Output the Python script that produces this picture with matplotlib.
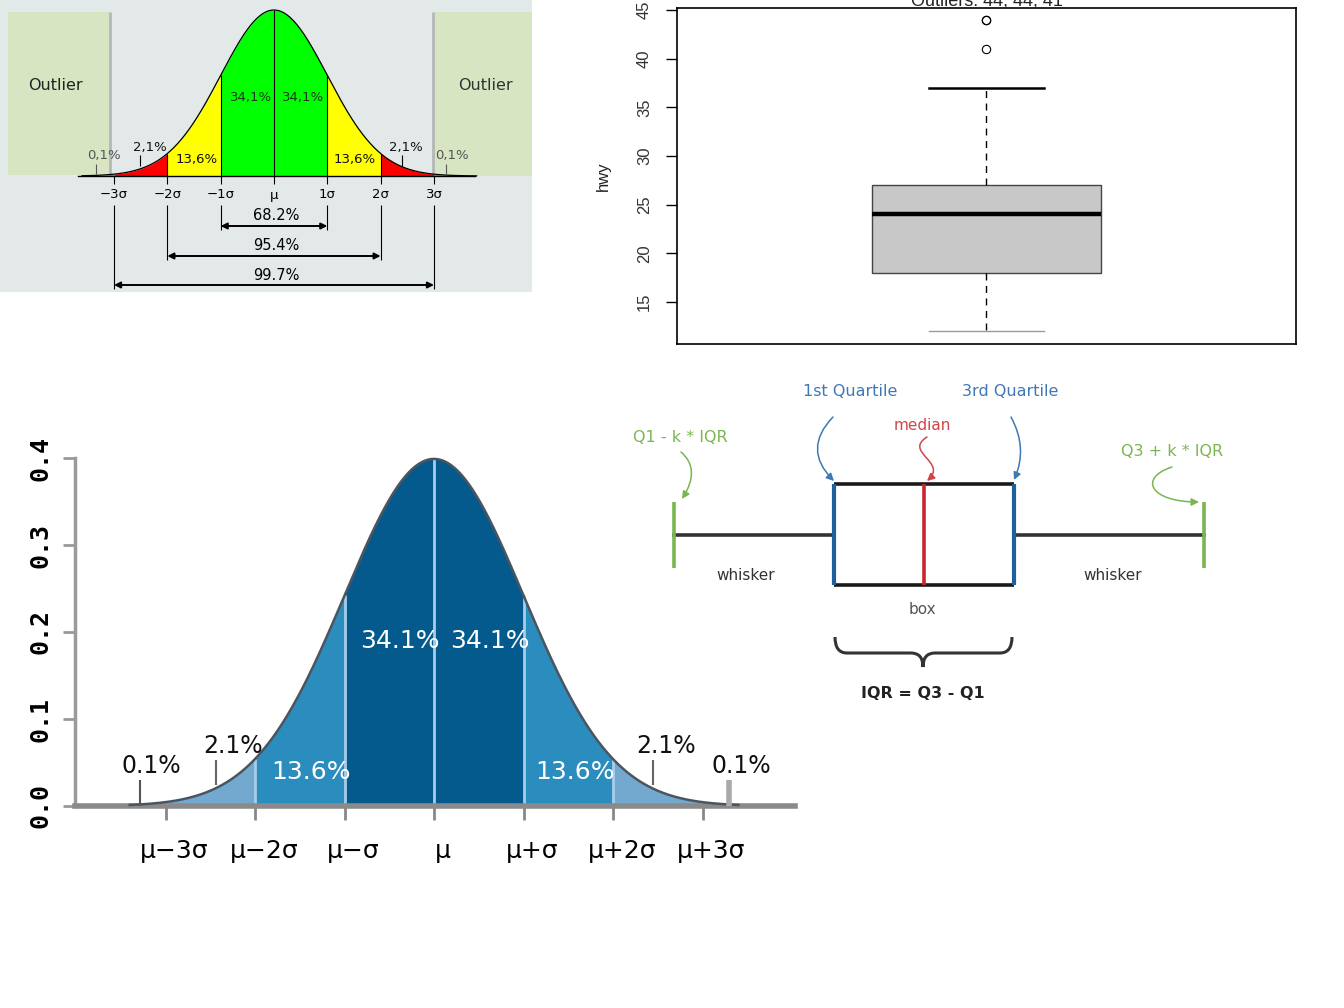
import numpy as np
import matplotlib
matplotlib.use("Agg")
import matplotlib.pyplot as plt
import matplotlib.patches as patches
import matplotlib.transforms as mtransforms
from matplotlib.path import Path

W, H = 1344, 1008
NARROW = ['Liberation Sans Narrow', 'DejaVu Sans']
ARIAL = ['Liberation Sans', 'DejaVu Sans']

# ---------------- data ----------------
sigma_edges = [-3, -2, -1, 0, 1, 2, 3]
top_tick_labels = ['−3σ', '−2σ', '−1σ', 'μ', '1σ', '2σ', '3σ']
bottom_tick_labels = ['μ−3σ', 'μ−2σ', 'μ−σ', 'μ', 'μ+σ', 'μ+2σ', 'μ+3σ']
share_comma = ['0,1%', '2,1%', '13,6%', '34,1%', '34,1%', '13,6%', '2,1%', '0,1%']
share_dot = ['0.1%', '2.1%', '13.6%', '34.1%', '34.1%', '13.6%', '2.1%', '0.1%']
coverage_k = [1, 2, 3]
coverage_labels = ['68.2%', '95.4%', '99.7%']
pdf_ticks = [0.0, 0.1, 0.2, 0.3, 0.4]

hwy_q1, hwy_med, hwy_q3 = 18, 24, 27
hwy_whislo, hwy_whishi = 12, 37
hwy_outliers = [44, 44, 41]
hwy_ticks = [15, 20, 25, 30, 35, 40, 45]

# schematic box plot, arbitrary units
sch_lo, sch_q1, sch_med, sch_q3, sch_hi = 0.0, 1.6, 2.5, 3.4, 5.3


def pdf(x):
    return np.exp(-np.asarray(x, float) ** 2 / 2) / np.sqrt(2 * np.pi)


fig = plt.figure(figsize=(W / 100, H / 100), dpi=100)


def px_axes(x0, y0, x1, y1):
    return fig.add_axes([x0 / W, 1 - y1 / H, (x1 - x0) / W, (y1 - y0) / H])


def bare(ax):
    ax.set_xticks([])
    ax.set_yticks([])
    for s in ax.spines.values():
        s.set_visible(False)
    ax.patch.set_alpha(0)


# ---------------- panel 1: coloured normal curve ----------------
ax1 = px_axes(0, 0, 532, 292)
bare(ax1)
k1 = pdf(0) / 166
fx = lambda px: (px - 274) / 53.33
fy = lambda py: (176 - py) * k1
ax1.set_xlim(fx(0), fx(532))
ax1.set_ylim(fy(292), fy(0))
ax1.add_patch(patches.Rectangle((0, 0), 1, 1, transform=ax1.transAxes,
                                fc='#e3e9e9', ec='none', zorder=0))
ax1.add_patch(patches.Rectangle((fx(8), fy(175)), fx(110) - fx(8), fy(12) - fy(175),
                                fc='#d8e5c3', ec='none', zorder=1))
ax1.add_patch(patches.Rectangle((fx(433), fy(176)), fx(532) - fx(433), fy(12) - fy(176),
                                fc='#d8e5c3', ec='none', zorder=1))
ax1.vlines([fx(110), fx(433)], 0, fy(12), color='#b4b8b8', lw=2, zorder=2)
ax1.text(fx(55), fy(86), 'Outlier', ha='center', va='center', fontsize=11.5, color='#222', zorder=3)
ax1.text(fx(485), fy(86), 'Outlier', ha='center', va='center', fontsize=11.5, color='#333', zorder=3)

band_cols1 = ['#ff0000', '#ffff00', '#00ff00', '#00ff00', '#ffff00', '#ff0000']
for a, b, c in zip(sigma_edges[:-1], sigma_edges[1:], band_cols1):
    xs = np.linspace(a, b, 100)
    ax1.fill_between(xs, 0, pdf(xs), color=c, lw=0, zorder=3)
for a, b in [(-3.6, -3), (3, 3.6)]:
    xs = np.linspace(a, b, 50)
    ax1.fill_between(xs, 0, pdf(xs), color='#ff6040', lw=0, zorder=3)
xs = np.linspace(-3.6, 3.8, 600)
ax1.plot(xs, pdf(xs), color='black', lw=0.9, zorder=4)
ax1.vlines(sigma_edges[1:-1], 0, pdf(sigma_edges[1:-1]), color='black', lw=0.8, zorder=4)
ax1.plot([fx(78), fx(475)], [0, 0], color='black', lw=1, zorder=4)
ax1.vlines(sigma_edges, fy(184), 0, color='black', lw=0.8, zorder=4)
for e, lbl in zip(sigma_edges, top_tick_labels):
    ax1.text(e, fy(195), lbl, ha='center', va='center', fontsize=9.5, zorder=5)

lab1_px = [(104, 156), (150, 147), (197, 160), (251, 98), (303, 98), (355, 160), (406, 147), (452, 156)]
lab1_col = ['#555', '#111', '#111', '#1a3a1a', '#1a3a1a', '#111', '#111', '#555']
for (px, py), s, c in zip(lab1_px, share_comma, lab1_col):
    ax1.text(fx(px), fy(py), s, ha='center', va='center', fontsize=9.5, color=c, zorder=5)
ax1.vlines([fx(140), fx(402)], fy(166), fy(155), color='black', lw=0.8, zorder=5)
ax1.vlines([fx(96), fx(446)], fy(174), fy(164), color='#555', lw=0.8, zorder=5)

for k, lbl, ypx in zip(coverage_k, coverage_labels, [226, 256, 285]):
    ax1.vlines([-k, k], fy(ypx + 4), fy(205), color='black', lw=0.8, zorder=4)
    ax1.annotate('', xy=(k, fy(ypx)), xytext=(-k, fy(ypx)),
                 arrowprops=dict(arrowstyle='<|-|>', color='black', lw=1.4,
                                 shrinkA=0, shrinkB=0, mutation_scale=9), zorder=5)
    ax1.text(0.04, fy(ypx - 10), lbl, ha='center', va='center', fontsize=10.5, zorder=5)

# ---------------- panel 2: R style box plot ----------------
ax2 = px_axes(677, 8, 1296, 344)
stats = [dict(med=hwy_med, q1=hwy_q1, q3=hwy_q3, whislo=hwy_whislo,
              whishi=hwy_whishi, fliers=hwy_outliers)]
bp = ax2.bxp(stats, positions=[1], widths=0.8, capwidths=0.4, patch_artist=True,
             boxprops=dict(facecolor='#c8c8c8', edgecolor='#444', lw=1),
             medianprops=dict(color='black', lw=3.2),
             whiskerprops=dict(color='black', lw=1, linestyle=(0, (5, 4))),
             capprops=dict(color='black', lw=1.8),
             flierprops=dict(marker='o', mfc='none', mec='black', ms=6, mew=0.8))
bp['caps'][0].set_color('#999')
bp['caps'][0].set_linewidth(1)
ax2.set_xlim(-0.08, 2.08)
ax2.set_ylim(10.7, 45.2)
ax2.set_xticks([])
ax2.set_yticks(hwy_ticks)
ax2.set_yticklabels([str(t) for t in hwy_ticks], rotation=90, va='center',
                    fontsize=12, color='#333', family=ARIAL)
ax2.tick_params(axis='y', length=8, width=1, pad=10)
for s in ax2.spines.values():
    s.set_linewidth(1.2)
ax2.text(-0.1195, 0.5, 'hwy', transform=ax2.transAxes, rotation=90, ha='center',
         va='center', fontsize=12, color='#222', family=ARIAL)
fig.text(987 / W, 1 - 5 / H, 'Outliers: 44, 44, 41', ha='center', va='baseline',
         fontsize=13, color='#222', family=ARIAL)

# ---------------- panel 3: box plot anatomy ----------------
ax3 = px_axes(620, 370, 1260, 720)
bare(ax3)
gx = lambda px: (px - 674) / 100
gy = lambda py: (585 - py) / 101
ax3.set_xlim(gx(620), gx(1260))
ax3.set_ylim(gy(720), gy(370))

GREEN, BLUE, RED, DARK = '#7ab650', '#1f5f9c', '#c8282d', '#333333'
ax3.plot([sch_lo, sch_q1], [0.5, 0.5], color=DARK, lw=2.6)
ax3.plot([sch_q3, sch_hi], [0.5, 0.5], color=DARK, lw=2.6)
ax3.vlines([sch_lo, sch_hi], gy(568), gy(502), color=GREEN, lw=2.6)
ax3.hlines([0, 1], sch_q1, sch_q3, color='#1a1a1a', lw=2.6)
ax3.vlines([sch_q1, sch_q3], 0, 1, color=BLUE, lw=3)
ax3.vlines(sch_med, 0, 1, color=RED, lw=2.6)


def t3(px, py, s, **kw):
    ax3.text(gx(px), gy(py), s, ha='center', va='center', family=NARROW, **kw)


t3(850, 391, '1st Quartile', color='#3f78b5', fontsize=11.5)
t3(1010, 391, '3rd Quartile', color='#3f78b5', fontsize=11.5)
t3(922, 425, 'median', color='#d0454a', fontsize=11)
t3(680, 438, 'Q1 - k * IQR', color=GREEN, fontsize=11.5)
t3(1172, 452, 'Q3 + k * IQR', color=GREEN, fontsize=11.5)
t3(746, 576, 'whisker', color='#333', fontsize=11)
t3(1113, 576, 'whisker', color='#333', fontsize=11)
t3(922, 610, 'box', color='#555', fontsize=11)
t3(923, 693, 'IQR = Q3 - Q1', color='#222', fontsize=11.5, weight='bold')


def curve_arrow(pts, color):
    verts = [(gx(x), gy(y)) for x, y in pts]
    codes = [Path.MOVETO] + [Path.CURVE3 if len(pts) == 3 else Path.CURVE4] * (len(pts) - 1)
    ax3.add_patch(patches.FancyArrowPatch(path=Path(verts, codes), arrowstyle='-|>',
                                          mutation_scale=11, color=color, lw=1.1))


curve_arrow([(833, 417), (802, 449), (834, 481)], '#3f78b5')
curve_arrow([(1011, 417), (1028, 448), (1014, 480)], '#3f78b5')
curve_arrow([(927, 437), (903, 452), (948, 462), (927, 481)], '#d0454a')
curve_arrow([(681, 452), (701, 469), (682, 499)], GREEN)
curve_arrow([(1172, 467), (1138, 478), (1150, 502), (1199, 502)], GREEN)

brace = [(835, 637), (835, 653), (847, 653), (911, 653), (923, 653), (923, 667),
         (923, 653), (935, 653), (1000, 653), (1012, 653), (1012, 637)]
bcodes = [Path.MOVETO, Path.CURVE3, Path.CURVE3, Path.LINETO, Path.CURVE3, Path.CURVE3,
          Path.CURVE3, Path.CURVE3, Path.LINETO, Path.CURVE3, Path.CURVE3]
ax3.add_patch(patches.PathPatch(Path([(gx(x), gy(y)) for x, y in brace], bcodes),
                                fc='none', ec=DARK, lw=2.2))

# ---------------- panel 4: blue normal curve ----------------
ax4 = px_axes(20, 420, 800, 880)
hx = lambda px: (px - 434) / 89.5
hy = lambda py: (806 - py) / 870
ax4.set_xlim(hx(20), hx(800))
ax4.set_ylim(hy(880), hy(420))
ax4.patch.set_alpha(0)
ax4.spines['top'].set_visible(False)
ax4.spines['right'].set_visible(False)
ax4.spines['left'].set_position(('data', hx(75)))
ax4.spines['left'].set_bounds(0, 0.4)
ax4.spines['left'].set_color('#9a9a9a')
ax4.spines['left'].set_linewidth(2.5)
ax4.spines['bottom'].set_position(('data', 0))
ax4.spines['bottom'].set_bounds(hx(75), hx(795))
ax4.spines['bottom'].set_color('#8a8a8a')
ax4.spines['bottom'].set_linewidth(4)

ax4.set_yticks(pdf_ticks)
ax4.set_yticklabels([f'{t:.1f}' for t in pdf_ticks], rotation=90, va='center',
                    family='DejaVu Sans Mono', weight='bold', fontsize=18)
ax4.tick_params(axis='y', length=9, width=2, color='#999', pad=7)
ax4.set_xticks(sigma_edges)
ax4.set_xticklabels(bottom_tick_labels, family=NARROW, fontsize=18)
ax4.tick_params(axis='x', length=10, width=2, color='#888', pad=14)
shift = mtransforms.ScaledTranslation(9 / 100, 0, fig.dpi_scale_trans)
for lbl in ax4.get_xticklabels():
    lbl.set_transform(lbl.get_transform() + shift)

band_cols4 = ['#74a9cf', '#2b8cbe', '#045a8d', '#045a8d', '#2b8cbe', '#74a9cf']
for a, b, c in zip(sigma_edges[:-1], sigma_edges[1:], band_cols4):
    xs = np.linspace(a, b, 100)
    ax4.fill_between(xs, 0, pdf(xs), color=c, lw=0, zorder=1)
for a, b in [(-3.4, -3), (3, 3.4)]:
    xs = np.linspace(a, b, 50)
    ax4.fill_between(xs, 0, pdf(xs), color='#a9c7e0', lw=0, zorder=1)
ax4.vlines(sigma_edges, 0, pdf(sigma_edges), color='#a8cde8', lw=2, zorder=2)
xs = np.linspace(-3.4, 3.4, 600)
ax4.plot(xs, pdf(xs), color='#4a5560', lw=1.8, zorder=3)

lab4_px = [(151, 766), (233, 746), (311, 772), (400, 641), (490, 641), (575, 772), (666, 746), (741, 766)]
lab4_col = ['#111', '#111', 'white', 'white', 'white', 'white', '#111', '#111']
lab4_size = [17, 17, 18, 18, 18, 18, 17, 17]
for (px, py), s, c, fs in zip(lab4_px, share_dot, lab4_col, lab4_size):
    ax4.text(hx(px), hy(py), s, ha='center', va='center', color=c, fontsize=fs,
             family=NARROW, zorder=4)
ax4.vlines([hx(216), hx(653)], hy(785), hy(760), color='#666', lw=1.5, zorder=4)
ax4.vlines(hx(140), 0, hy(780), color='#555', lw=1.5, zorder=4)
ax4.vlines(hx(729), 0, hy(780), color='#aaa', lw=4, zorder=4)

fig.savefig('out.png', dpi=100)
